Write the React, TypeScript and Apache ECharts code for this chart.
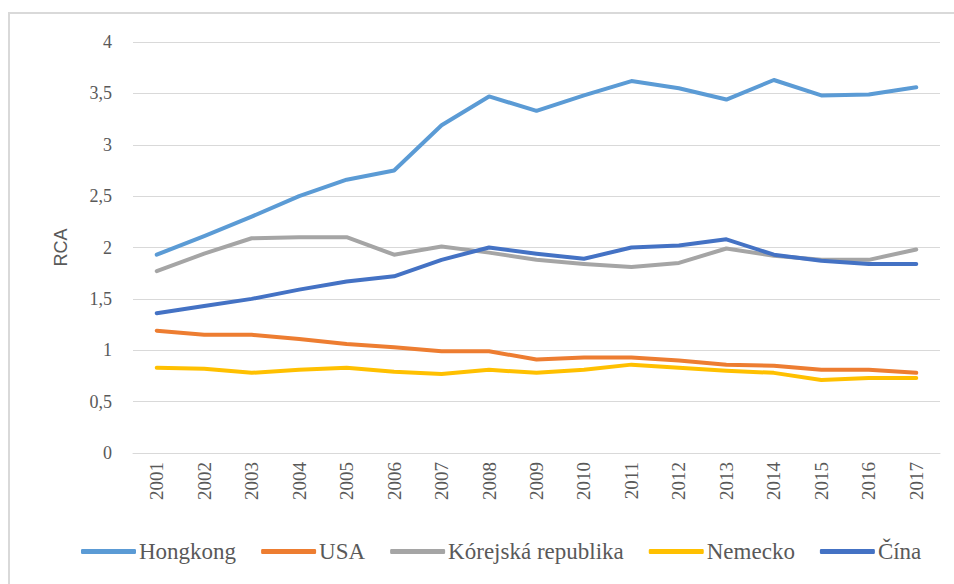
import React, { useEffect, useRef } from "react";
import * as echarts from "echarts";

const years = ["2001","2002","2003","2004","2005","2006","2007","2008","2009","2010","2011","2012","2013","2014","2015","2016","2017"];
const hongkong = [1.93, 2.11, 2.3, 2.5, 2.66, 2.75, 3.19, 3.47, 3.33, 3.48, 3.62, 3.55, 3.44, 3.63, 3.48, 3.49, 3.56];
const usa = [1.19, 1.15, 1.15, 1.11, 1.06, 1.03, 0.99, 0.99, 0.91, 0.93, 0.93, 0.9, 0.86, 0.85, 0.81, 0.81, 0.78];
const korea = [1.77, 1.94, 2.09, 2.1, 2.1, 1.93, 2.01, 1.95, 1.88, 1.84, 1.81, 1.85, 1.99, 1.92, 1.88, 1.88, 1.98];
const nemecko = [0.83, 0.82, 0.78, 0.81, 0.83, 0.79, 0.77, 0.81, 0.78, 0.81, 0.86, 0.83, 0.8, 0.78, 0.71, 0.73, 0.73];
const cina = [1.36, 1.43, 1.5, 1.59, 1.67, 1.72, 1.88, 2.0, 1.94, 1.89, 2.0, 2.02, 2.08, 1.93, 1.87, 1.84, 1.84];

const seriesNames = ["Hongkong", "USA", "Kórejská republika", "Nemecko", "Čína"];
const seriesData = [hongkong, usa, korea, nemecko, cina];
const colors = ["#5B9BD5", "#ED7D31", "#A5A5A5", "#FFC000", "#4472C4"];

export default function App() {
  const ref = useRef<HTMLDivElement>(null);
  useEffect(() => {
    if (!ref.current) return;
    const chart = echarts.init(ref.current, undefined, { renderer: "svg" });
    const serif = "Times New Roman, serif";
    chart.setOption({
      animation: false,
      backgroundColor: "#ffffff",
      color: colors,
      graphic: [
        {
          type: "rect",
          shape: { x: 9, y: 13, width: 980, height: 620 },
          style: { fill: "none", stroke: "#d9d9d9", lineWidth: 2 },
          silent: true,
        },
      ],
      grid: { left: 133, right: 14, top: 42, bottom: 131, containLabel: false },
      legend: {
        bottom: 16,
        left: 76,
        data: seriesNames,
        icon: "roundRect",
        itemWidth: 55,
        itemHeight: 5,
        itemGap: 25,
        textStyle: { fontFamily: serif, fontSize: 23, color: "#595959", padding: [0, 0, 0, -2] },
      },
      xAxis: {
        type: "category",
        data: years,
        boundaryGap: true,
        axisLine: { show: true, lineStyle: { color: "#d9d9d9", width: 1 } },
        axisTick: { show: false },
        axisLabel: {
          rotate: 90,
          interval: 0,
          margin: 9,
          fontFamily: serif,
          fontSize: 19,
          color: "#595959",
        },
      },
      yAxis: {
        type: "value",
        min: 0,
        max: 4,
        interval: 0.5,
        name: "RCA",
        nameLocation: "middle",
        nameGap: 63,
        nameTextStyle: { fontFamily: "Arial, sans-serif", fontSize: 18, color: "#595959" },
        axisLine: { show: false },
        axisTick: { show: false },
        axisLabel: {
          margin: 21,
          fontFamily: serif,
          fontSize: 18,
          color: "#595959",
          formatter: (v: number) => String(v).replace(".", ","),
        },
        splitLine: { lineStyle: { color: "#d9d9d9", width: 1 } },
      },
      series: seriesNames.map((name, i) => ({
        name,
        type: "line",
        data: seriesData[i],
        symbol: "none",
        lineStyle: { width: 4, color: colors[i], cap: "round", join: "round" },
        itemStyle: { color: colors[i] },
      })),
    });
    return () => chart.dispose();
  }, []);
  return (
    <div
      ref={ref}
      style={{ position: "fixed", left: 0, top: 0, width: 954, height: 584 }}
    />
  );
}
